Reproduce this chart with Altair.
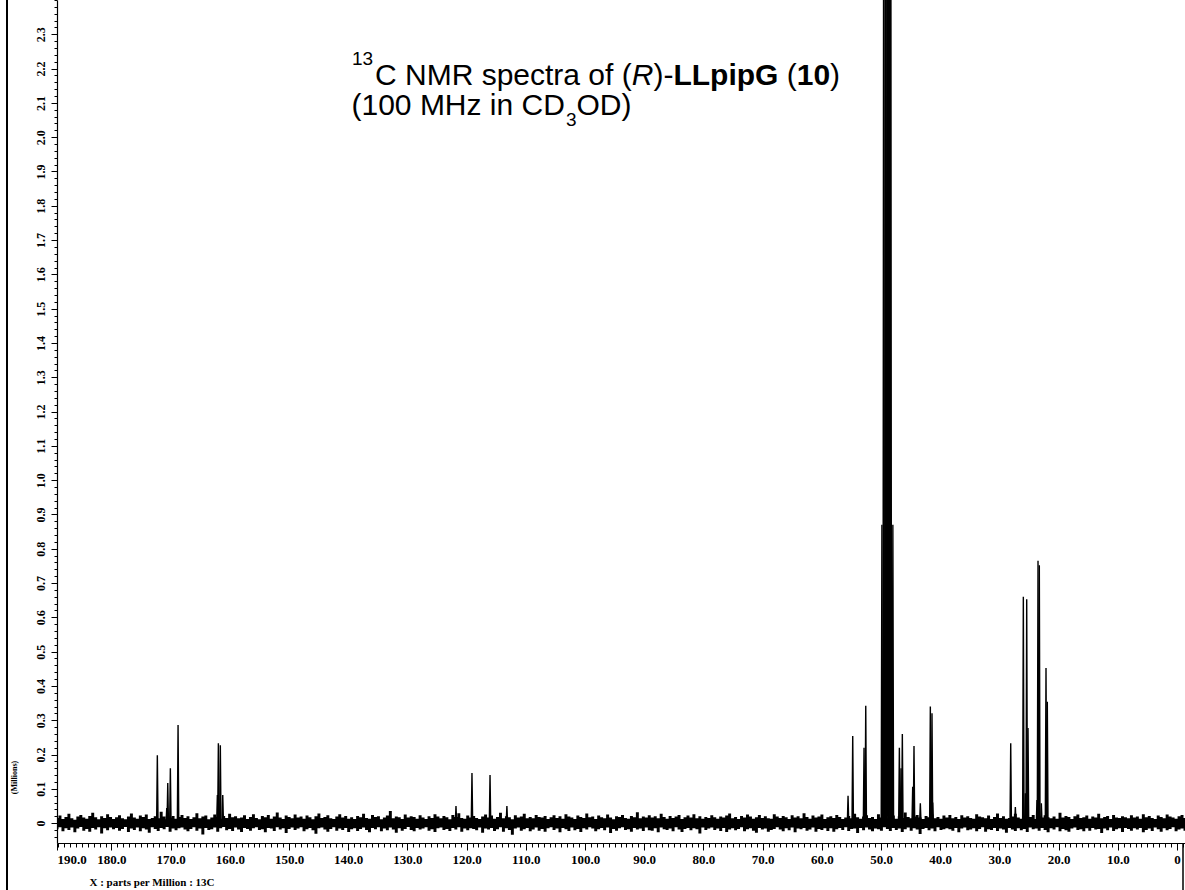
import altair as alt
import numpy as np
import pandas as pd

# ---------------- data ----------------
# peak positions (ppm) and peak heights (millions)
peak_ppm = [172.25, 170.66, 170.49, 170.05, 168.75, 162.11, 161.94, 161.61, 161.20,
            121.80, 119.10, 116.05, 113.20,
            55.57, 54.78, 52.87, 52.58,
            49.85, 49.55, 49.25, 48.95, 48.65, 48.35, 48.00,
            46.90, 46.62, 46.40, 44.65, 44.43, 43.36, 41.67, 41.39, 41.27,
            28.09, 27.31, 25.96, 25.63, 25.39, 25.17, 23.65, 23.48, 23.26, 22.92, 22.13, 21.91]
peak_height = [0.198, 0.044, 0.117, 0.160, 0.286, 0.082, 0.233, 0.227, 0.082,
               0.050, 0.146, 0.140, 0.050,
               0.080, 0.254, 0.220, 0.342,
               0.870, 3.000, 5.500, 6.500, 5.500, 3.000, 0.870,
               0.220, 0.160, 0.260, 0.106, 0.225, 0.058, 0.340, 0.320, 0.060,
               0.233, 0.047, 0.660, 0.087, 0.653, 0.277, 0.067, 0.765, 0.752, 0.058, 0.452, 0.354]

# baseline noise envelope (thousandths of a million), left (high ppm) to right
noise_upper = [
    15, 22, 12, 18, 27, 14, 10, 19, 24, 16, 13, 21, 30, 17, 11, 20, 15, 26, 18, 12,
    17, 23, 14, 11, 19, 28, 16, 13, 22, 18, 25, 12, 15, 20, 14, 33, 19, 11, 16, 21,
    13, 18, 24, 15, 20, 12, 17, 29, 14, 19, 22, 11, 16, 25, 18, 13, 21, 15, 27, 17,
    20, 14, 16, 23, 12, 18, 26, 15, 11, 21, 17, 24, 13, 19, 31, 16, 12, 22, 18, 14,
    25, 16, 19, 13, 22, 17, 11, 20, 28, 15, 18, 23, 14, 12, 19, 26, 16, 21, 13, 17,
    12, 21, 17, 27, 15, 13, 24, 18, 20, 11, 16, 22, 35, 14, 19, 17, 12, 25, 16, 20,
    18, 13, 23, 16, 12, 20, 15, 26, 19, 14, 21, 17, 11, 24, 18, 29, 15, 13, 22, 16,
    21, 15, 12, 19, 25, 16, 22, 13, 18, 30, 14, 20, 17, 11, 23, 16, 19, 27, 14, 18,
    14, 24, 18, 16, 21, 12, 17, 23, 15, 20, 13, 26, 19, 16, 12, 22, 18, 15, 28, 17,
    19, 12, 22, 17, 14, 25, 16, 11, 20, 18, 24, 15, 13, 21, 17, 32, 14, 19, 16, 23,
    16, 20, 14, 27, 18, 13, 21, 15, 19, 24, 12, 17, 22, 16, 26, 14, 20, 13, 18, 15,
    23, 17, 13, 19, 16, 22, 28, 14, 18, 12, 21, 16, 25, 19, 13, 17, 24, 15, 20, 14,
    13, 26, 19, 15, 21, 17, 12, 23, 16, 20, 14, 29, 18, 13, 22, 16, 19, 25, 12, 17,
    20, 15, 24, 18, 12, 16, 21, 14, 27, 17, 13, 19, 23, 15, 18, 12, 26, 16, 21, 14,
    17, 22, 13, 20, 15, 31, 18, 14, 19, 24, 16, 12, 21, 17, 25, 14, 18, 13, 22, 16,
    24, 14, 18, 12, 23, 16, 20, 15, 13, 26, 19, 17, 14, 22, 12, 18, 28, 15, 20, 13,
    15, 19, 27, 16, 13, 21, 14, 18, 24, 12, 20, 16, 23, 17, 14, 19, 13, 30, 16, 21,
    18, 12, 20, 25, 15, 17, 22, 13, 19, 16, 27, 14, 18, 21, 12, 24, 16, 15, 20, 17,
    14, 23, 16, 19, 13, 26, 17, 21, 15, 12, 22, 18, 14, 25, 19, 16, 13, 20, 24, 15,
]
noise_lower = [
    -18, -12, -24, -15, -20, -13, -27, -16, -11, -22, -17, -25, -14, -19, -12, -30, -15, -21, -13, -18,
    -14, -22, -17, -11, -26, -16, -20, -13, -24, -15, -19, -28, -12, -17, -23, -14, -18, -11, -25, -16,
    -21, -15, -13, -19, -24, -17, -12, -22, -16, -33, -14, -20, -18, -13, -25, -15, -11, -21, -17, -23,
    -13, -19, -26, -14, -17, -22, -15, -12, -20, -18, -27, -14, -16, -23, -12, -19, -15, -29, -17, -13,
    -20, -16, -12, -24, -18, -14, -21, -31, -15, -13, -19, -25, -17, -12, -22, -16, -20, -14, -26, -18,
    -15, -23, -17, -13, -20, -27, -14, -18, -12, -24, -16, -21, -13, -19, -28, -15, -22, -17, -11, -20,
    -24, -14, -19, -16, -12, -22, -18, -26, -15, -13, -20, -17, -23, -14, -19, -12, -25, -16, -21, -15,
    -17, -21, -13, -28, -16, -19, -14, -23, -18, -12, -25, -15, -20, -34, -16, -13, -22, -18, -14, -24,
    -19, -13, -22, -17, -25, -15, -12, -20, -16, -27, -14, -18, -23, -13, -21, -17, -26, -15, -19, -12,
    -16, -24, -18, -14, -21, -13, -29, -17, -22, -15, -12, -20, -18, -25, -14, -19, -16, -23, -13, -21,
    -22, -15, -27, -13, -18, -20, -16, -24, -12, -19, -26, -17, -14, -21, -15, -18, -30, -13, -20, -16,
    -13, -20, -16, -23, -14, -26, -19, -15, -21, -17, -12, -24, -18, -15, -22, -28, -14, -19, -16, -25,
    -20, -17, -12, -19, -24, -15, -21, -13, -27, -16, -18, -14, -22, -19, -13, -25, -17, -20, -15, -23,
    -15, -25, -18, -14, -20, -12, -23, -17, -16, -29, -14, -21, -13, -19, -24, -16, -18, -22, -12, -17,
    -23, -14, -20, -16, -26, -18, -13, -22, -15, -19, -32, -17, -14, -21, -16, -24, -12, -20, -18, -15,
    -18, -22, -14, -27, -16, -13, -21, -19, -15, -24, -17, -12, -25, -18, -20, -14, -23, -16, -19, -28,
    -14, -19, -23, -15, -21, -17, -26, -13, -18, -16, -22, -14, -20, -27, -15, -19, -12, -24, -17, -21,
    -25, -16, -13, -20, -18, -24, -15, -22, -14, -19, -17, -29, -16, -21, -13, -23, -18, -15, -26, -14,
    -17, -22, -15, -19, -14, -27, -20, -16, -23, -13, -18, -25, -15, -21, -17, -12, -24, -19, -16, -22,
]

x_label_values = [189.2, 180, 170, 160, 150, 140, 130, 120, 110, 100, 90, 80, 70, 60, 50, 40, 30, 20, 10, 0]
y_label_values = [round(v * 0.1, 1) for v in range(0, 24)]
x_minor_values = list(range(-1, 190))
y_minor_values = [round(v * 0.02, 2) for v in range(-2, 121)]

X_DOMAIN = [-1.35, 189.2]
Y_DOMAIN = [-0.058, 2.4]
HALF = 0.12  # half width of a drawn line (ppm)

# ---------------- tables ----------------
noise_df = pd.DataFrame({
    "ppm": np.linspace(X_DOMAIN[1], X_DOMAIN[0], len(noise_upper)),
    "hi": np.array(noise_upper) / 1000.0,
    "lo": np.array(noise_lower) / 1000.0,
})

rows = []
for i, (p, h) in enumerate(zip(peak_ppm, peak_height)):
    rows.append({"peak": i, "ppm": p + HALF, "int": 0.0})
    rows.append({"peak": i, "ppm": p, "int": h})
    rows.append({"peak": i, "ppm": p - HALF, "int": 0.0})
peak_df = pd.DataFrame(rows)

xscale = alt.Scale(domain=X_DOMAIN, reverse=True, nice=False, zero=False)
yscale = alt.Scale(domain=Y_DOMAIN, nice=False, zero=False)

AX_FONT = "Liberation Serif"

noise = alt.Chart(noise_df).mark_area(color="black", interpolate="step", clip=True).encode(
    x=alt.X("ppm:Q", scale=xscale, axis=alt.Axis(
        orient="bottom", values=x_label_values,
        labelExpr="datum.value > 185 ? '190.0' : (datum.value == 0 ? '0' : format(datum.value, '.1f'))",
        tickSize=7, labelFlush=True, labelPadding=3, grid=False,
        labelFont=AX_FONT, labelFontWeight="bold", labelFontSize=13, labelColor="black",
        tickColor="black", domainColor="black", domainWidth=1.2,
        title="X : parts per Million : 13C", titleX=32, titleY=39, titleAlign="left",
        titleBaseline="middle", titleFont=AX_FONT, titleFontSize=11, titleFontWeight="bold",
        titleColor="black")),
    y=alt.Y("hi:Q", scale=yscale, axis=alt.Axis(
        orient="left", values=y_label_values,
        labelExpr="datum.value == 0 ? '0' : format(datum.value, '.1f')",
        labelAngle=270, labelAlign="center", labelBaseline="bottom",
        tickSize=6, labelPadding=4, grid=False,
        labelFont=AX_FONT, labelFontWeight="bold", labelFontSize=12, labelColor="black",
        tickColor="black", domainColor="black", domainWidth=1.2,
        title="(Millions)", titleAngle=270, titleX=-43, titleY=777, titleAlign="center",
        titleBaseline="middle", titleFont=AX_FONT, titleFontSize=8, titleFontWeight="bold",
        titleColor="black")),
    y2="lo:Q",
)

minor = alt.Chart(noise_df).mark_point(opacity=0).encode(
    x=alt.X("ppm:Q", scale=xscale, axis=alt.Axis(
        orient="bottom", values=x_minor_values, labels=False, tickSize=4, domain=False,
        grid=False, title=None, tickColor="black")),
    y=alt.Y("hi:Q", scale=yscale, axis=alt.Axis(
        orient="left", values=y_minor_values, labels=False, tickSize=3, domain=False,
        grid=False, title=None, tickColor="black")),
)

peaks = alt.Chart(peak_df).mark_line(color="black", strokeWidth=1.4, clip=True).encode(
    x=alt.X("ppm:Q", scale=xscale, axis=None),
    y=alt.Y("int:Q", scale=yscale, axis=None),
    detail="peak:N",
)

one = pd.DataFrame({"k": [0]})
SANS = "Liberation Sans"


def seg(text, x, y, size=30, weight="normal", style="normal"):
    return alt.Chart(one).mark_text(
        text=text, font=SANS, fontSize=size, fontWeight=weight, fontStyle=style,
        align="left", baseline="alphabetic", color="black",
    ).encode(x=alt.value(x), y=alt.value(y))


title_layers = [
    seg("13", 295, 65, size=19),
    seg("C NMR spectra of (", 318, 85),
    seg("R", 574.7, 85, style="italic"),
    seg(")-", 596.4, 85),
    seg("LLpipG", 616.4, 85, weight="bold"),
    seg("(", 729.7, 85),
    seg("10", 739.7, 85, weight="bold"),
    seg(")", 773, 85),
    seg("(100 MHz in CD", 294.5, 115),
    seg("3", 508.9, 126, size=19),
    seg("OD)", 519.5, 115),
]

border = alt.Chart(one).mark_rule(color="black", strokeWidth=2).encode(
    x=alt.value(-50), y=alt.value(0), y2=alt.value(890))
border_r = alt.Chart(one).mark_rule(color="black", strokeWidth=1.5).encode(
    x=alt.value(1126), y=alt.value(843), y2=alt.value(890))

chart = alt.layer(minor, noise, peaks, border, border_r, *title_layers).resolve_axis(
    x="independent", y="independent"
).properties(
    width=1128, height=843,
    autosize=alt.AutoSizeParams(type="none"),
    padding={"left": 57, "top": 0, "right": 0, "bottom": 47},
    background="white",
).configure_view(stroke=None)

chart.save("out.html", embed_options={"renderer": "svg", "actions": False})
